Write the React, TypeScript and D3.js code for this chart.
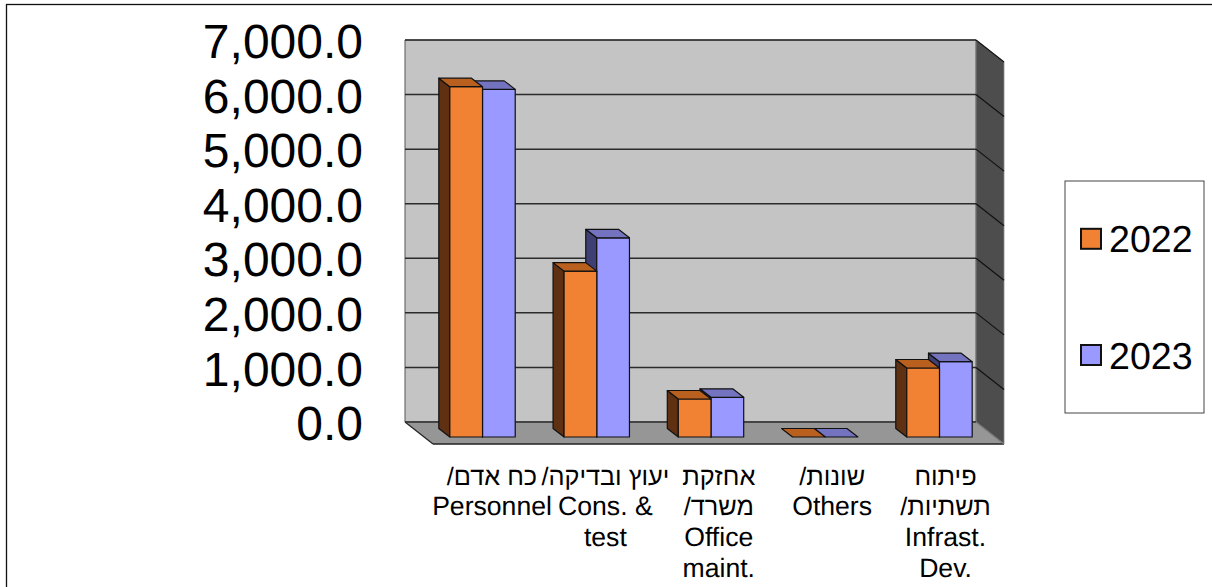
import { useEffect, useRef } from "react"
import * as d3 from "d3"

const categories = ["personnel", "consulting", "office", "others", "infrastructure"]
const categoryLines = [
  ["כח אדם/", "Personnel"],
  ["יעוץ ובדיקה/", "Cons. &", "test"],
  ["אחזקת", "משרד/", "Office", "maint."],
  ["שונות/", "Others"],
  ["פיתוח", "תשתיות/", "Infrast.", "Dev."],
]
const years = ["2022", "2023"]
const values2022 = [6420, 3040, 696, 0, 1264]
const values2023 = [6370, 3650, 727, 0, 1380]
const yTicks = [0, 1000, 2000, 3000, 4000, 5000, 6000, 7000]

const palette = {
  "2022": { front: "#F28233", side: "#603013", top: "#B9601F" },
  "2023": { front: "#9999FF", side: "#3F3F73", top: "#7373BF" },
}

const font = "'Liberation Sans', Arial, sans-serif"

export default function App() {
  const svgRef = useRef<SVGSVGElement>(null)

  useEffect(() => {
    if (!svgRef.current) return
    const svg = d3.select(svgRef.current)
    svg.selectAll("*").remove()

    const wall = { left: 405, right: 976, top: 40, bottom: 422 }
    const depth = { x: 28, y: 22 }
    const barDepth = { x: 11, y: 8.5 }
    const barBase = 437

    // 外框 (只看得到上緣和左緣)
    svg.append("rect")
      .attr("x", 6.5).attr("y", 4.5)
      .attr("width", 1300).attr("height", 700)
      .attr("fill", "#fff").attr("stroke", "#111").attr("stroke-width", 1.3)

    const y = d3.scaleLinear().domain([0, 7000]).range([wall.bottom, wall.top])
    const barY = d3.scaleLinear().domain([0, 7000]).range([barBase, barBase - (wall.bottom - wall.top)])

    const x0 = d3.scaleBand<string>()
      .domain(categories)
      .range([425.4, 996.6])
    const x1 = d3.scaleBand<string>()
      .domain(years)
      .range([x0.bandwidth() / 2 - 32.7, x0.bandwidth() / 2 + 32.7])

    const polygon = (pts: [number, number][]) => d3.line()(pts) + "Z"

    // 背牆、右牆、地板
    svg.append("path")
      .attr("d", polygon([[wall.left, wall.top], [wall.right, wall.top], [wall.right, wall.bottom], [wall.left, wall.bottom]]))
      .attr("fill", "#C4C4C4").attr("stroke", "#555").attr("stroke-width", 1)
    svg.append("path")
      .attr("d", polygon([[wall.right, wall.top], [wall.right + depth.x, wall.top + depth.y], [wall.right + depth.x, wall.bottom + depth.y], [wall.right, wall.bottom]]))
      .attr("fill", "#4D4D4D").attr("stroke", "#8a8a8a").attr("stroke-width", 0.8)
    svg.append("path")
      .attr("d", polygon([[wall.left, wall.bottom], [wall.right, wall.bottom], [wall.right + depth.x, wall.bottom + depth.y], [wall.left + depth.x, wall.bottom + depth.y]]))
      .attr("fill", "#969696")
    svg.append("line")
      .attr("x1", wall.left).attr("y1", wall.bottom)
      .attr("x2", wall.left + depth.x).attr("y2", wall.bottom + depth.y)
      .attr("stroke", "#222").attr("stroke-width", 1.2)
    svg.append("line")
      .attr("x1", wall.left + depth.x).attr("y1", wall.bottom + depth.y)
      .attr("x2", wall.right + depth.x).attr("y2", wall.bottom + depth.y)
      .attr("stroke", "#222").attr("stroke-width", 1.4)

    // 格線
    const grid = svg.append("g")
    yTicks.forEach(t => {
      grid.append("line")
        .attr("x1", wall.left).attr("x2", wall.right)
        .attr("y1", y(t)).attr("y2", y(t))
        .attr("stroke", "#2b2b2b").attr("stroke-width", 1.5)
      grid.append("line")
        .attr("x1", wall.right).attr("x2", wall.right + depth.x)
        .attr("y1", y(t)).attr("y2", y(t) + depth.y)
        .attr("stroke", t === 0 ? "#777" : "#111").attr("stroke-width", 1.2)
    })

    // Y 軸
    const axis = svg.append("g")
      .attr("transform", "translate(363,0.8)")
      .call(d3.axisLeft(y).tickValues(yTicks).tickSize(0).tickPadding(0).tickFormat(d3.format(",.1f") as any))
    axis.select(".domain").remove()
    axis.selectAll("text")
      .attr("font-family", font)
      .attr("font-size", 48)
      .attr("fill", "#000")
      .attr("dy", "0.35em")

    // 長條 (2023 先畫，2022 的頂面會蓋在上面)
    const drawBars = (year: "2022" | "2023", values: number[]) => {
      const colors = palette[year]
      const w = x1.bandwidth()
      categories.forEach((c, i) => {
        const left = (x0(c) as number) + (x1(year) as number)
        const top = barY(values[i])
        const g = svg.append("g")
          .attr("stroke", "#111").attr("stroke-width", 1.2).attr("stroke-linejoin", "round")
        if (values[i] > 0) {
          g.append("path")
            .attr("d", polygon([[left - barDepth.x, top - barDepth.y], [left, top], [left, barBase], [left - barDepth.x, barBase - barDepth.y]]))
            .attr("fill", colors.side)
          g.append("rect")
            .attr("x", left).attr("y", top)
            .attr("width", w).attr("height", barBase - top)
            .attr("fill", colors.front)
        }
        g.append("path")
          .attr("d", polygon([[left - barDepth.x, top - barDepth.y], [left + w - barDepth.x, top - barDepth.y], [left + w, top], [left, top]]))
          .attr("fill", colors.top)
      })
    }
    drawBars("2023", values2023)
    drawBars("2022", values2022)

    // 類別標籤
    const labelX = d3.scalePoint<string>().domain(categories).range([492, 945.5])
    categories.forEach((c, i) => {
      categoryLines[i].forEach((line, j) => {
        const hebrew = /[\u0590-\u05FF]/.test(line)
        svg.append("text")
          .attr("x", labelX(c) as number)
          .attr("y", 484.5 + j * 30.8)
          .attr("text-anchor", "middle")
          .attr("direction", hebrew ? "rtl" : "ltr")
          .attr("font-family", font)
          .attr("font-size", hebrew ? 25.3 : 26.6)
          .attr("fill", "#000")
          .text(line)
      })
    })

    // 圖例
    svg.append("rect")
      .attr("x", 1065).attr("y", 181)
      .attr("width", 139).attr("height", 232)
      .attr("fill", "#fff").attr("stroke", "#444").attr("stroke-width", 1)
    const legendY = d3.scalePoint<string>().domain(years).range([238.8, 355])
    years.forEach(year => {
      const cy = legendY(year) as number
      svg.append("rect")
        .attr("x", 1081).attr("y", cy - 10)
        .attr("width", 20).attr("height", 20)
        .attr("fill", palette[year as "2022" | "2023"].front)
        .attr("stroke", "#111").attr("stroke-width", 2)
      svg.append("text")
        .attr("x", 1109).attr("y", cy + 13.5)
        .attr("font-family", font)
        .attr("font-size", 37.6)
        .attr("fill", "#000")
        .text(year)
    })

    svg.selectAll("text").attr("text-rendering", "geometricPrecision")
  }, [])

  return (
    <svg
      ref={svgRef}
      width={1212}
      height={587}
      style={{ position: "absolute", left: 0, top: 0, display: "block" }}
    />
  )
}
